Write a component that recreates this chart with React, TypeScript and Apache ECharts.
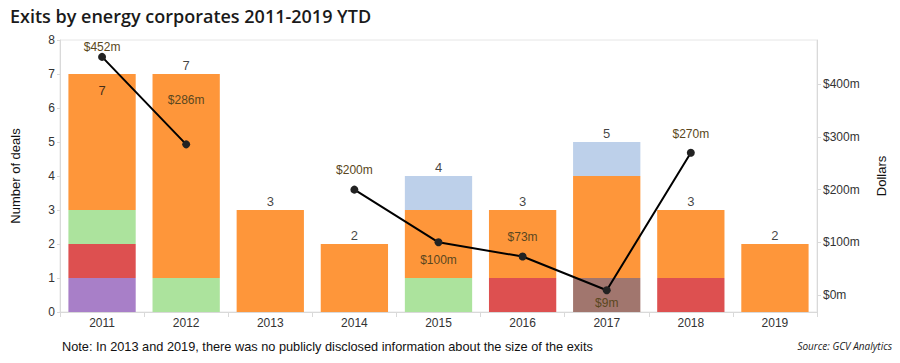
import React, { useEffect, useRef } from "react";
import * as echarts from "echarts";

const years = ["2011", "2012", "2013", "2014", "2015", "2016", "2017", "2018", "2019"];
const purpleDeals = [1, 0, 0, 0, 0, 0, 0, 0, 0];
const redDeals = [1, 0, 0, 0, 0, 1, 0, 1, 0];
const brownDeals = [0, 0, 0, 0, 0, 0, 1, 0, 0];
const greenDeals = [1, 1, 0, 0, 1, 0, 0, 0, 0];
const orangeDeals = [4, 6, 3, 2, 2, 2, 3, 2, 2];
const blueDeals = [0, 0, 0, 0, 1, 0, 1, 0, 0];
const totalDeals = [7, 7, 3, 2, 4, 3, 5, 3, 2];
const dollarsM: (number | null)[] = [452, 286, null, 200, 100, 73, 9, 270, null];
const dollarTicks = [0, 100, 200, 300, 400];

// label placement styles (not data)
const dollarLabelPos: [string, number][] = [
  ["top", 0], ["top", 34], ["top", 10], ["top", 10], ["bottom", 8],
  ["top", 10], ["bottom", 3], ["top", 9], ["top", 10],
];
const totalLabelPos: [string, number][] = [
  ["bottom", 10], ["top", 2], ["top", 2], ["top", 2], ["top", 2],
  ["top", 2], ["top", 2], ["top", 2], ["top", 2],
];

const FONT = "'Liberation Sans', Arial, sans-serif";

export default function App() {
  const ref = useRef<HTMLDivElement>(null);
  useEffect(() => {
    if (!ref.current) return;
    const chart = echarts.init(ref.current, null, { renderer: "svg" });
    const barSeries = (name: string, data: number[], color: string) => ({
      name,
      type: "bar",
      stack: "deals",
      data,
      barWidth: "80%",
      itemStyle: { color },
      emphasis: { disabled: true },
    });
    chart.setOption({
      animation: false,
      textStyle: { fontFamily: FONT },
      title: {
        text: "Exits by energy corporates 2011-2019 YTD",
        left: 5,
        top: 2,
        textStyle: { fontFamily: "'Open Sans', sans-serif", fontSize: 18, fontWeight: 600, color: "#1a1a1a" },
      },
      grid: {
        left: 60,
        right: 83,
        top: 40,
        bottom: 51,
        show: true,
        borderColor: "#e6e6e6",
        borderWidth: 1,
        backgroundColor: "transparent",
      },
      xAxis: {
        type: "category",
        data: years,
        axisLine: { lineStyle: { color: "#d9d9d9" } },
        axisTick: { show: true, length: 5, lineStyle: { color: "#d9d9d9" } },
        axisLabel: { color: "#333", fontSize: 12, margin: 5, fontFamily: FONT },
      },
      yAxis: [
        {
          type: "value",
          min: 0,
          max: 8,
          interval: 1,
          name: "Number of deals",
          nameLocation: "middle",
          nameGap: 38,
          nameTextStyle: { color: "#111", fontSize: 13, fontFamily: FONT },
          axisLine: { show: true, lineStyle: { color: "#d9d9d9" } },
          axisTick: { show: true, length: 3, lineStyle: { color: "#d9d9d9" } },
          axisLabel: { color: "#333", fontSize: 12, margin: 5, fontFamily: FONT },
          splitLine: { show: false },
        },
        {
          type: "value",
          min: -32.3,
          max: 484.1,
          position: "right",
          name: "Dollars",
          nameLocation: "middle",
          nameGap: 58,
          nameRotate: 90,
          nameTextStyle: { color: "#111", fontSize: 13, fontFamily: FONT },
          axisLine: { show: true, lineStyle: { color: "#d9d9d9" } },
          axisTick: { show: true, length: 4, customValues: dollarTicks, lineStyle: { color: "#d9d9d9" } },
          axisLabel: {
            color: "#333",
            fontSize: 12,
            margin: 6,
            fontFamily: FONT,
            customValues: dollarTicks,
            formatter: (v: number) => `$${v}m`,
          },
          splitLine: { show: false },
        },
      ],
      series: [
        barSeries("purple", purpleDeals, "#A87FC8"),
        barSeries("red", redDeals, "#DD5050"),
        barSeries("brown", brownDeals, "#A1766E"),
        barSeries("green", greenDeals, "#ACE39D"),
        barSeries("orange", orangeDeals, "#FE963A"),
        barSeries("blue", blueDeals, "#BDD0EA"),
        {
          name: "totals",
          type: "scatter",
          symbolSize: 0,
          silent: true,
          z: 5,
          data: totalDeals.map((v, i) => ({
            value: v,
            label: {
              show: true,
              position: totalLabelPos[i][0],
              distance: totalLabelPos[i][1],
              formatter: String(v),
              color: "#111",
              fontSize: 13,
              fontFamily: FONT,
            },
          })),
        },
        {
          name: "Dollars",
          type: "line",
          yAxisIndex: 1,
          z: 6,
          symbol: "circle",
          symbolSize: 8,
          lineStyle: { color: "#000", width: 2 },
          itemStyle: { color: "#222" },
          connectNulls: false,
          data: dollarsM.map((v, i) => ({
            value: v,
            label: {
              show: v !== null,
              position: dollarLabelPos[i][0],
              distance: dollarLabelPos[i][1],
              formatter: `$${v}m`,
              color: "#5a4720",
              fontSize: 12,
              fontFamily: FONT,
            },
          })),
        },
      ],
      graphic: [
        {
          type: "text",
          left: 62,
          top: 340,
          style: {
            text: "Note: In 2013 and 2019, there was no publicly disclosed information about the size of the exits",
            fontSize: 12.75,
            fontFamily: FONT,
            fill: "#111",
          },
        },
        {
          type: "text",
          right: 8,
          top: 341,
          style: {
            text: "Source: GCV Analytics",
            fontSize: 10,
            fontStyle: "italic",
            fontFamily: "'Liberation Sans Narrow', 'Open Sans', sans-serif",
            fill: "#222",
          },
        },
      ],
    });
    return () => chart.dispose();
  }, []);
  return <div ref={ref} style={{ width: 900, height: 363, position: "absolute", left: 0, top: 0 }} />;
}
